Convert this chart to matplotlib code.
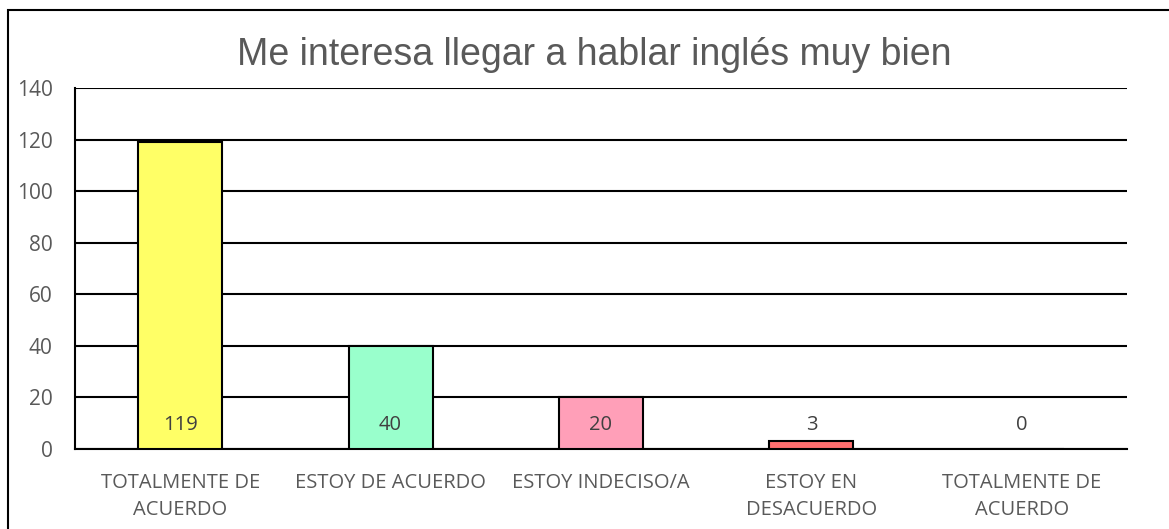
import matplotlib.pyplot as plt
from matplotlib.patches import Rectangle

categories = ["TOTALMENTE DE\nACUERDO", "ESTOY DE ACUERDO", "ESTOY INDECISO/A",
              "ESTOY EN\nDESACUERDO", "TOTALMENTE DE\nACUERDO"]
values = [119, 40, 20, 3, 0]
colors = ["#FFFF66", "#99FFCC", "#FF9FB8", "#FF7070", "#FFFFFF"]
yticks = [0, 20, 40, 60, 80, 100, 120, 140]


def main():
    fig = plt.figure(figsize=(11.69, 5.29), dpi=100)
    ax = fig.add_axes([75 / 1169, 1 - 449 / 529, (1127 - 75) / 1169, (449 - 88) / 529])

    x = range(len(values))
    ax.bar(x, values, width=0.4, color=colors, edgecolor="black", linewidth=1.5, zorder=3)

    # value labels sit near the base of each bar
    for i, v in enumerate(values):
        ax.text(i, 9.5, str(v), ha="center", va="center", fontsize=14.5,
                color="#404040", family="Open Sans", zorder=4)

    ax.set_xlim(-0.5, len(values) - 0.5)
    ax.set_ylim(0, 140)
    ax.set_yticks(yticks)
    ax.yaxis.grid(True, color="black", linewidth=1.5, zorder=0)
    ax.set_axisbelow(True)
    ax.tick_params(axis="x", length=0, labelsize=14.5, colors="#595959", pad=17)
    ax.tick_params(axis="y", length=0, labelsize=15, colors="#595959", pad=16)
    ax.set_xticks(list(x))
    ax.set_xticklabels(categories, family="Open Sans", linespacing=1.5)
    for lab in ax.get_yticklabels():
        lab.set_family("Open Sans")

    for side in ["top", "right"]:
        ax.spines[side].set_visible(False)
    ax.spines["left"].set_linewidth(1.5)
    ax.spines["bottom"].set_linewidth(1.5)

    fig.text(0.508, 1 - 55 / 529, "Me interesa llegar a hablar inglés muy bien",
             ha="center", va="center", fontsize=27, color="#595959", family="Liberation Sans")

    # chart area border
    fig.patches.append(Rectangle((8 / 1169, -0.1), 1.2, 1 - 10 / 529 + 0.1,
                                 transform=fig.transFigure, fill=False,
                                 edgecolor="black", linewidth=1.5))

    fig.savefig("out.png", dpi=100)


if __name__ == "__main__":
    main()
